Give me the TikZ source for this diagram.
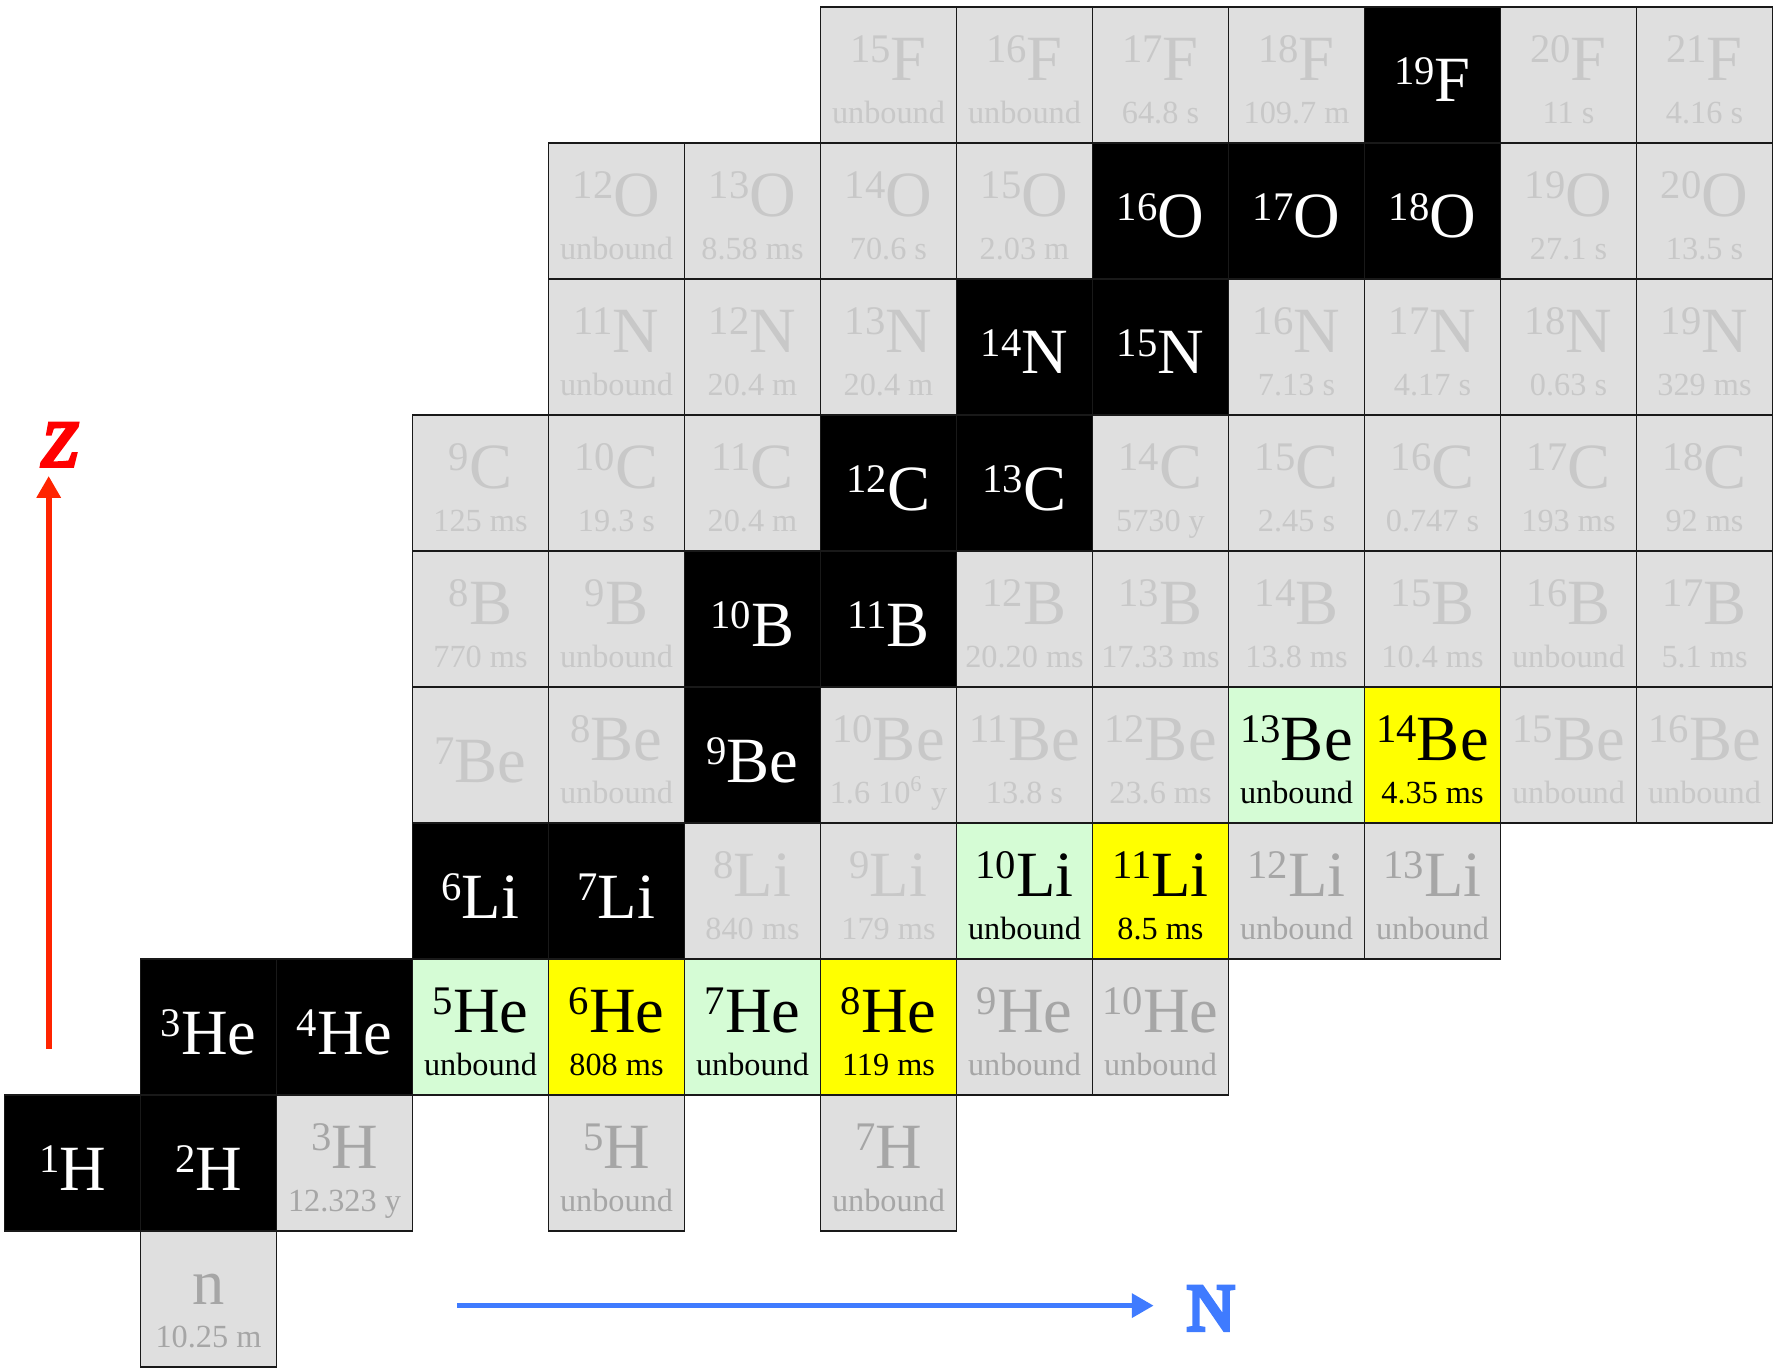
\documentclass[tikz,border=0pt]{standalone}
\usepackage{fontspec}
\setmainfont{Liberation Serif}
\usetikzlibrary{arrows.meta}

\definecolor{fillst}{HTML}{000000}
\definecolor{textst}{HTML}{FFFFFF}
\definecolor{fillgr}{HTML}{DFDFDF}
\definecolor{textgr}{HTML}{C8C8C8}
\definecolor{fillgd}{HTML}{DFDFDF}
\definecolor{textgd}{HTML}{A6A6A6}
\definecolor{fillgn}{HTML}{D5FCD5}
\definecolor{textgn}{HTML}{000000}
\definecolor{fillye}{HTML}{FFFF00}
\definecolor{textye}{HTML}{000000}
\definecolor{zred}{HTML}{FF2400}
\definecolor{nblue}{HTML}{3F7BFF}

\newcommand{\nucl}[2]{\raisebox{7.5pt}{\fontsize{17}{17}\selectfont#1}{\fontsize{27}{27}\selectfont#2}}
\newcommand{\thick}[1]{\special{pdf:literal q 2 Tr 1.6 w}#1\special{pdf:literal Q}}

\tikzset{
  cell/.style={draw=black!90, line width=0.6pt, minimum size=2cm, inner sep=0pt},
  sym/.style={anchor=base, inner sep=0pt},
  half/.style={anchor=base, inner sep=0pt, font=\fontsize{13.5}{14}\selectfont},
}

\begin{document}
\begin{tikzpicture}[x=2cm, y=2cm, >={Triangle[width=0.34cm,length=0.32cm]}]
\useasboundingbox (-0.033,-0.017) rectangle (13.033,10.05);

% stable nuclei and 7Be: no half-life line
\foreach \n/\z/\a/\el/\k in {0/1/1/H/st, 1/1/2/H/st, 1/2/3/He/st, 2/2/4/He/st,
    3/3/6/Li/st, 4/3/7/Li/st, 3/4/7/Be/gr, 5/4/9/Be/st, 5/5/10/B/st, 6/5/11/B/st,
    6/6/12/C/st, 7/6/13/C/st, 7/7/14/N/st, 8/7/15/N/st, 8/8/16/O/st, 9/8/17/O/st,
    10/8/18/O/st, 10/9/19/F/st} {
  \node[cell, fill=fill\k] (\el\a) at (\n+0.5,\z+0.5) {};
  \node[sym, text=text\k] (\el\a-s) at (\n+0.5,\z+0.3) {\nucl{\a}{\el}};
}

% unstable nuclei with half-life
\foreach \n/\z/\a/\el/\t/\k in {1/0//n/10.25 m/gd, 2/1/3/H/12.323 y/gd,
    4/1/5/H/unbound/gd, 6/1/7/H/unbound/gd,
    3/2/5/He/unbound/gn, 4/2/6/He/808 ms/ye, 5/2/7/He/unbound/gn, 6/2/8/He/119 ms/ye,
    7/2/9/He/unbound/gd, 8/2/10/He/unbound/gd,
    5/3/8/Li/840 ms/gr, 6/3/9/Li/179 ms/gr, 7/3/10/Li/unbound/gn, 8/3/11/Li/8.5 ms/ye,
    9/3/12/Li/unbound/gd, 10/3/13/Li/unbound/gd,
    4/4/8/Be/unbound/gr, 6/4/10/Be/{1.6 10\textsuperscript{6} y}/gr, 7/4/11/Be/13.8 s/gr,
    8/4/12/Be/23.6 ms/gr, 9/4/13/Be/unbound/gn, 10/4/14/Be/4.35 ms/ye,
    11/4/15/Be/unbound/gr, 12/4/16/Be/unbound/gr,
    3/5/8/B/770 ms/gr, 4/5/9/B/unbound/gr, 7/5/12/B/20.20 ms/gr, 8/5/13/B/17.33 ms/gr,
    9/5/14/B/13.8 ms/gr, 10/5/15/B/10.4 ms/gr, 11/5/16/B/unbound/gr, 12/5/17/B/5.1 ms/gr,
    3/6/9/C/125 ms/gr, 4/6/10/C/19.3 s/gr, 5/6/11/C/20.4 m/gr, 8/6/14/C/5730 y/gr,
    9/6/15/C/2.45 s/gr, 10/6/16/C/0.747 s/gr, 11/6/17/C/193 ms/gr, 12/6/18/C/92 ms/gr,
    4/7/11/N/unbound/gr, 5/7/12/N/20.4 m/gr, 6/7/13/N/20.4 m/gr, 9/7/16/N/7.13 s/gr,
    10/7/17/N/4.17 s/gr, 11/7/18/N/0.63 s/gr, 12/7/19/N/329 ms/gr,
    4/8/12/O/unbound/gr, 5/8/13/O/8.58 ms/gr, 6/8/14/O/70.6 s/gr, 7/8/15/O/2.03 m/gr,
    11/8/19/O/27.1 s/gr, 12/8/20/O/13.5 s/gr,
    6/9/15/F/unbound/gr, 7/9/16/F/unbound/gr, 8/9/17/F/64.8 s/gr, 9/9/18/F/109.7 m/gr,
    11/9/20/F/11 s/gr, 12/9/21/F/4.16 s/gr} {
  \node[cell, fill=fill\k] (\el\a) at (\n+0.5,\z+0.5) {};
  \node[sym, text=text\k] (\el\a-s) at (\n+0.5,\z+0.46) {\nucl{\a}{\el}};
  \node[half, text=text\k] (\el\a-t) at (\n+0.5,\z+0.14) {\t};
}

% axes
\coordinate (zfrom) at (0.325,2.34);
\coordinate (zto) at (0.325,6.55);
\draw[->, zred, line width=2.4pt] (zfrom) -- (zto);
\node[text=red, font=\fontsize{27}{27}\selectfont\itshape] (zlab) at (0.4,6.78) {\thick{Z}};

\coordinate (nfrom) at (3.33,0.45);
\coordinate (nto) at (8.45,0.45);
\draw[->, nblue, line width=2.4pt] (nfrom) -- (nto);
\node[text=nblue, font=\fontsize{28}{28}\selectfont] (nlab) at (8.87,0.43) {\thick{N}};
\end{tikzpicture}
\end{document}
